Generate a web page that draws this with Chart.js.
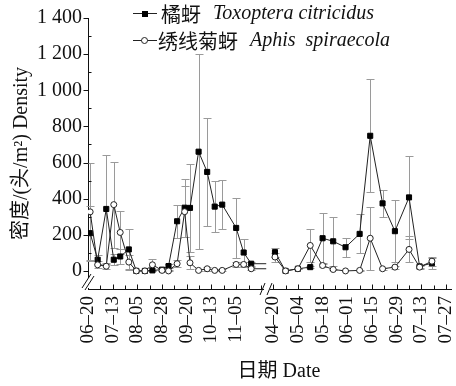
<!DOCTYPE html>
<html><head><meta charset="utf-8">
<script src="https://cdn.jsdelivr.net/npm/chart.js@4/dist/chart.umd.min.js"></script>
<style>html,body{margin:0;padding:0;background:#fff}#wrap{width:456px;height:386px}</style>
</head><body><div id="wrap"><canvas id="c" width="456" height="386"></canvas></div>
<script>
// ---------- data ----------
const seriesCN = ['橘蚜', '绣线菊蚜'];
const seriesLatin = ['Toxoptera citricidus', 'Aphis  spiraecola'];
const yTitle = '密度/(头/m²) Density';
const xTitle = '日期 Date';

const season1Dates = ['06-22','06-29','07-07','07-14','07-20','07-28','08-04','08-12','08-19','08-28','09-03','09-11','09-18','09-23','10-01','10-09','10-16','10-23','11-05','11-12','11-19'];
const citricidus1    = [209, 62, 343, 62, 80, 119, 0, 0, 3, 7, 27, 275, 350, 349, 660, 548, 356, 367, 238, 102, 40];
const citricidusErr1 = [150, 25, 300, 30, 40, 115, 0, 0, 3, 5, 10, 90, 160, 245, 540, 300, 143, 137, 167, 75, 12];
const spiraecola1    = [327, 34, 26, 367, 213, 49, 0, 0, 34, 3, 0, 40, 328, 45, 3, 12, 3, 3, 36, 36, 12];
const spiraecolaErr1 = [270, 20, 15, 238, 120, 40, 0, 0, 33, 4, 3, 20, 140, 35, 5, 10, 6, 6, 12, 15, 8];
// unmarked line ends running to the axis break
const season1TailDate = '12-03';
const citricidusTail = 40;
const spiraecolaTail = 12;

const season2Dates = ['04-21','04-27','05-04','05-11','05-18','05-24','05-31','06-08','06-14','06-21','06-28','07-06','07-12','07-19'];
const citricidus2    = [104, 0, 12, 21, 181, 164, 131, 205, 748, 374, 220, 407, 25, 43];
const citricidusErr2 = [25, 0, 4, 5, 138, 135, 53, 108, 312, 73, 170, 230, 8, 30];
const spiraecola2    = [77, 0, 12, 141, 30, 8, 0, 3, 181, 12, 21, 119, 21, 54];
const spiraecolaErr2 = [25, 0, 4, 92, 8, 4, 0, 3, 175, 6, 8, 72, 8, 25];

const tickDates1 = ['06-20','07-13','08-05','08-28','09-20','10-13','11-05'];
const tickDates2 = ['04-20','05-04','05-18','06-01','06-15','06-29','07-13','07-27'];
const yTickValues = [0, 200, 400, 600, 800, 1000, 1200, 1400];

// ---------- axis mapping (broken date axis: 23-day units, then 14-day units) ----------
function doy(md, yr){ const [m,d] = md.split('-').map(Number); return (Date.UTC(yr,m-1,d) - Date.UTC(yr,0,1)) / 864e5; }
function pos1(md){ return (doy(md,2001) - doy(tickDates1[0],2001)) / 23; }
function pos2(md){ return 7.5 + (doy(md,2002) - doy(tickDates2[0],2002)) / 14; }
const labelMap = {};
tickDates1.forEach(d => labelMap[pos1(d).toFixed(2)] = d.replace('-', '–'));
tickDates2.forEach(d => labelMap[pos2(d).toFixed(2)] = d.replace('-', '–'));

function buildSeries(v1, e1, tail, v2, e2){
  const data = [], errs = [], radii = [];
  season1Dates.forEach((d,i) => { data.push({x: pos1(d), y: v1[i]}); errs.push(e1[i]); radii.push(1); });
  data.push({x: pos1(season1TailDate), y: tail}); errs.push(0); radii.push(0);
  data.push({x: 7.1, y: null}); errs.push(0); radii.push(0);
  season2Dates.forEach((d,i) => { data.push({x: pos2(d), y: v2[i]}); errs.push(e2[i]); radii.push(1); });
  return {data, errs, radii};
}
const sA = buildSeries(citricidus1, citricidusErr1, citricidusTail, citricidus2, citricidusErr2);
const sB = buildSeries(spiraecola1, spiraecolaErr1, spiraecolaTail, spiraecola2, spiraecolaErr2);

const SERIF = '"Liberation Serif", "Times New Roman", "Noto Sans CJK SC", serif';
const INK = '#111';

const decor = {
  id: 'decor',
  beforeDatasetsDraw(chart){
    const ctx = chart.ctx, ys = chart.scales.y;
    ctx.save();
    ctx.strokeStyle = '#9a9a9a'; ctx.lineWidth = 1;
    chart.data.datasets.forEach((ds, di) => {
      const meta = chart.getDatasetMeta(di);
      ds.errors.forEach((e, i) => {
        const p = ds.data[i];
        if (!e || p.y == null) return;
        const x = Math.round(meta.data[i].x) + 0.5;
        const t = Math.round(ys.getPixelForValue(p.y + e)) + 0.5;
        const b = Math.round(ys.getPixelForValue(Math.max(p.y - e, 0))) + 0.5;
        ctx.beginPath();
        ctx.moveTo(x, t); ctx.lineTo(x, b);
        ctx.moveTo(x - 4, t); ctx.lineTo(x + 4, t);
        ctx.moveTo(x - 4, b); ctx.lineTo(x + 4, b);
        ctx.stroke();
      });
    });
    ctx.restore();
  },
  afterDraw(chart){
    const ctx = chart.ctx, xs = chart.scales.x, ys = chart.scales.y, ca = chart.chartArea;
    ctx.save();
    ctx.strokeStyle = INK; ctx.lineWidth = 1;
    // x ticks (inward)
    const bx = Math.round(ca.bottom) + 0.5;
    for (let v = 0; v <= 14.5 + 1e-9; v += 0.5) {
      const px = Math.round(xs.getPixelForValue(v)) + 0.5;
      const major = labelMap[v.toFixed(2)] !== undefined;
      ctx.beginPath(); ctx.moveTo(px, bx); ctx.lineTo(px, bx - (major ? 5 : 4)); ctx.stroke();
    }
    // y ticks: major outward, minor inward
    const lx = Math.round(ca.left) + 0.5;
    for (let v = 0; v <= 1400; v += 100) {
      const py = Math.round(ys.getPixelForValue(v)) + 0.5;
      ctx.beginPath();
      if (v % 200 === 0) { ctx.moveTo(lx - 5, py); ctx.lineTo(lx, py); }
      else { ctx.moveTo(lx, py); ctx.lineTo(lx + 3, py); }
      ctx.stroke();
    }
    // breaks
    ctx.fillStyle = '#fff';
    ctx.fillRect(ca.left - 2, ca.bottom - 11, 4, 10);
    ctx.beginPath();
    ctx.moveTo(ca.left - 6, ca.bottom - 1); ctx.lineTo(ca.left + 3, ca.bottom - 15);
    ctx.moveTo(ca.left - 3, ca.bottom + 1); ctx.lineTo(ca.left + 6, ca.bottom - 13);
    ctx.stroke();
    const brk = xs.getPixelForValue(7.25);
    ctx.fillRect(brk - 3, ca.bottom - 2, 6, 4);
    ctx.beginPath();
    ctx.moveTo(brk - 7, ca.bottom + 6); ctx.lineTo(brk - 2, ca.bottom - 6);
    ctx.moveTo(brk, ca.bottom + 6); ctx.lineTo(brk + 5, ca.bottom - 6);
    ctx.stroke();
    // x axis title
    ctx.fillStyle = INK; ctx.textAlign = 'center'; ctx.textBaseline = 'middle';
    ctx.font = '20px ' + SERIF;
    ctx.fillText(xTitle, 279, 372);
    // legend
    const rows = [{y: 13, style: 'rect'}, {y: 40, style: 'circle'}];
    rows.forEach((r, i) => {
      ctx.strokeStyle = '#222'; ctx.lineWidth = 1;
      ctx.beginPath(); ctx.moveTo(133, r.y + 0.5); ctx.lineTo(157, r.y + 0.5); ctx.stroke();
      if (r.style === 'rect') { ctx.fillStyle = '#000'; ctx.fillRect(142, r.y - 2, 6, 6); }
      else { ctx.fillStyle = '#fff'; ctx.beginPath(); ctx.arc(144.5, r.y + 0.5, 3, 0, Math.PI*2); ctx.fill(); ctx.stroke(); }
      ctx.fillStyle = INK; ctx.textBaseline = 'middle'; ctx.textAlign = 'left';
      ctx.font = '20px "Noto Sans CJK SC", sans-serif';
      const x0 = i === 0 ? 161 : 158;
      ctx.fillText(seriesCN[i], x0, r.y + 1);
      const w = ctx.measureText(seriesCN[i]).width;
      ctx.font = 'italic 20px "Liberation Serif", serif';
      ctx.fillText(seriesLatin[i], x0 + w + 12, r.y + 1);
    });
    ctx.restore();
  }
};

new Chart(document.getElementById('c'), {
  type: 'line',
  data: { datasets: [
    { label: seriesCN[0] + ' ' + seriesLatin[0], data: sA.data, errors: sA.errs,
      borderColor: '#222', borderWidth: 1, pointStyle: 'rect', pointRadius: sA.radii.map(r => r * 3.6),
      pointBackgroundColor: '#000', pointBorderColor: '#000', pointBorderWidth: 1, spanGaps: false, tension: 0, order: 2 },
    { label: seriesCN[1] + ' ' + seriesLatin[1], data: sB.data, errors: sB.errs,
      borderColor: '#222', borderWidth: 1, pointStyle: 'circle', pointRadius: sB.radii.map(r => r * 3),
      pointBackgroundColor: '#fff', pointBorderColor: '#222', pointBorderWidth: 1, spanGaps: false, tension: 0, order: 1 }
  ]},
  options: {
    responsive: false, animation: false, devicePixelRatio: 1,
    layout: { padding: { top: 17, right: 0, bottom: 0, left: 0 } },
    plugins: { legend: { display: false }, tooltip: { enabled: false } },
    scales: {
      x: { type: 'linear', min: 0, max: 14.7,
        afterFit(s){ s.height = 97; s.paddingLeft = 0; s.paddingRight = 0; },
        ticks: { stepSize: 0.5, includeBounds: false, autoSkip: false, minRotation: 90, maxRotation: 90, padding: 7, color: INK,
          font: { family: SERIF, size: 19 }, callback: v => labelMap[Number(v).toFixed(2)] || '' },
        grid: { display: true, drawOnChartArea: false, drawTicks: false },
        border: { display: true, color: INK, width: 1 },
        title: { display: false } },
      y: { type: 'linear', min: -100, max: 1400,
        afterFit(s){ s.width = 88; },
        ticks: { stepSize: 100, autoSkip: false, padding: 6, color: INK, font: { family: SERIF, size: 20 },
          callback: v => (yTickValues.includes(v)) ? (v >= 1000 ? Math.floor(v/1000) + ' ' + String(v%1000).padStart(3,'0') : String(v)) : '' },
        grid: { display: true, drawOnChartArea: false, drawTicks: false },
        border: { display: true, color: INK, width: 1 },
        title: { display: true, text: yTitle, color: INK, font: { family: SERIF, size: 20 }, padding: { top: 10, bottom: 0 } } }
    }
  },
  plugins: [decor]
});
</script></body></html>
